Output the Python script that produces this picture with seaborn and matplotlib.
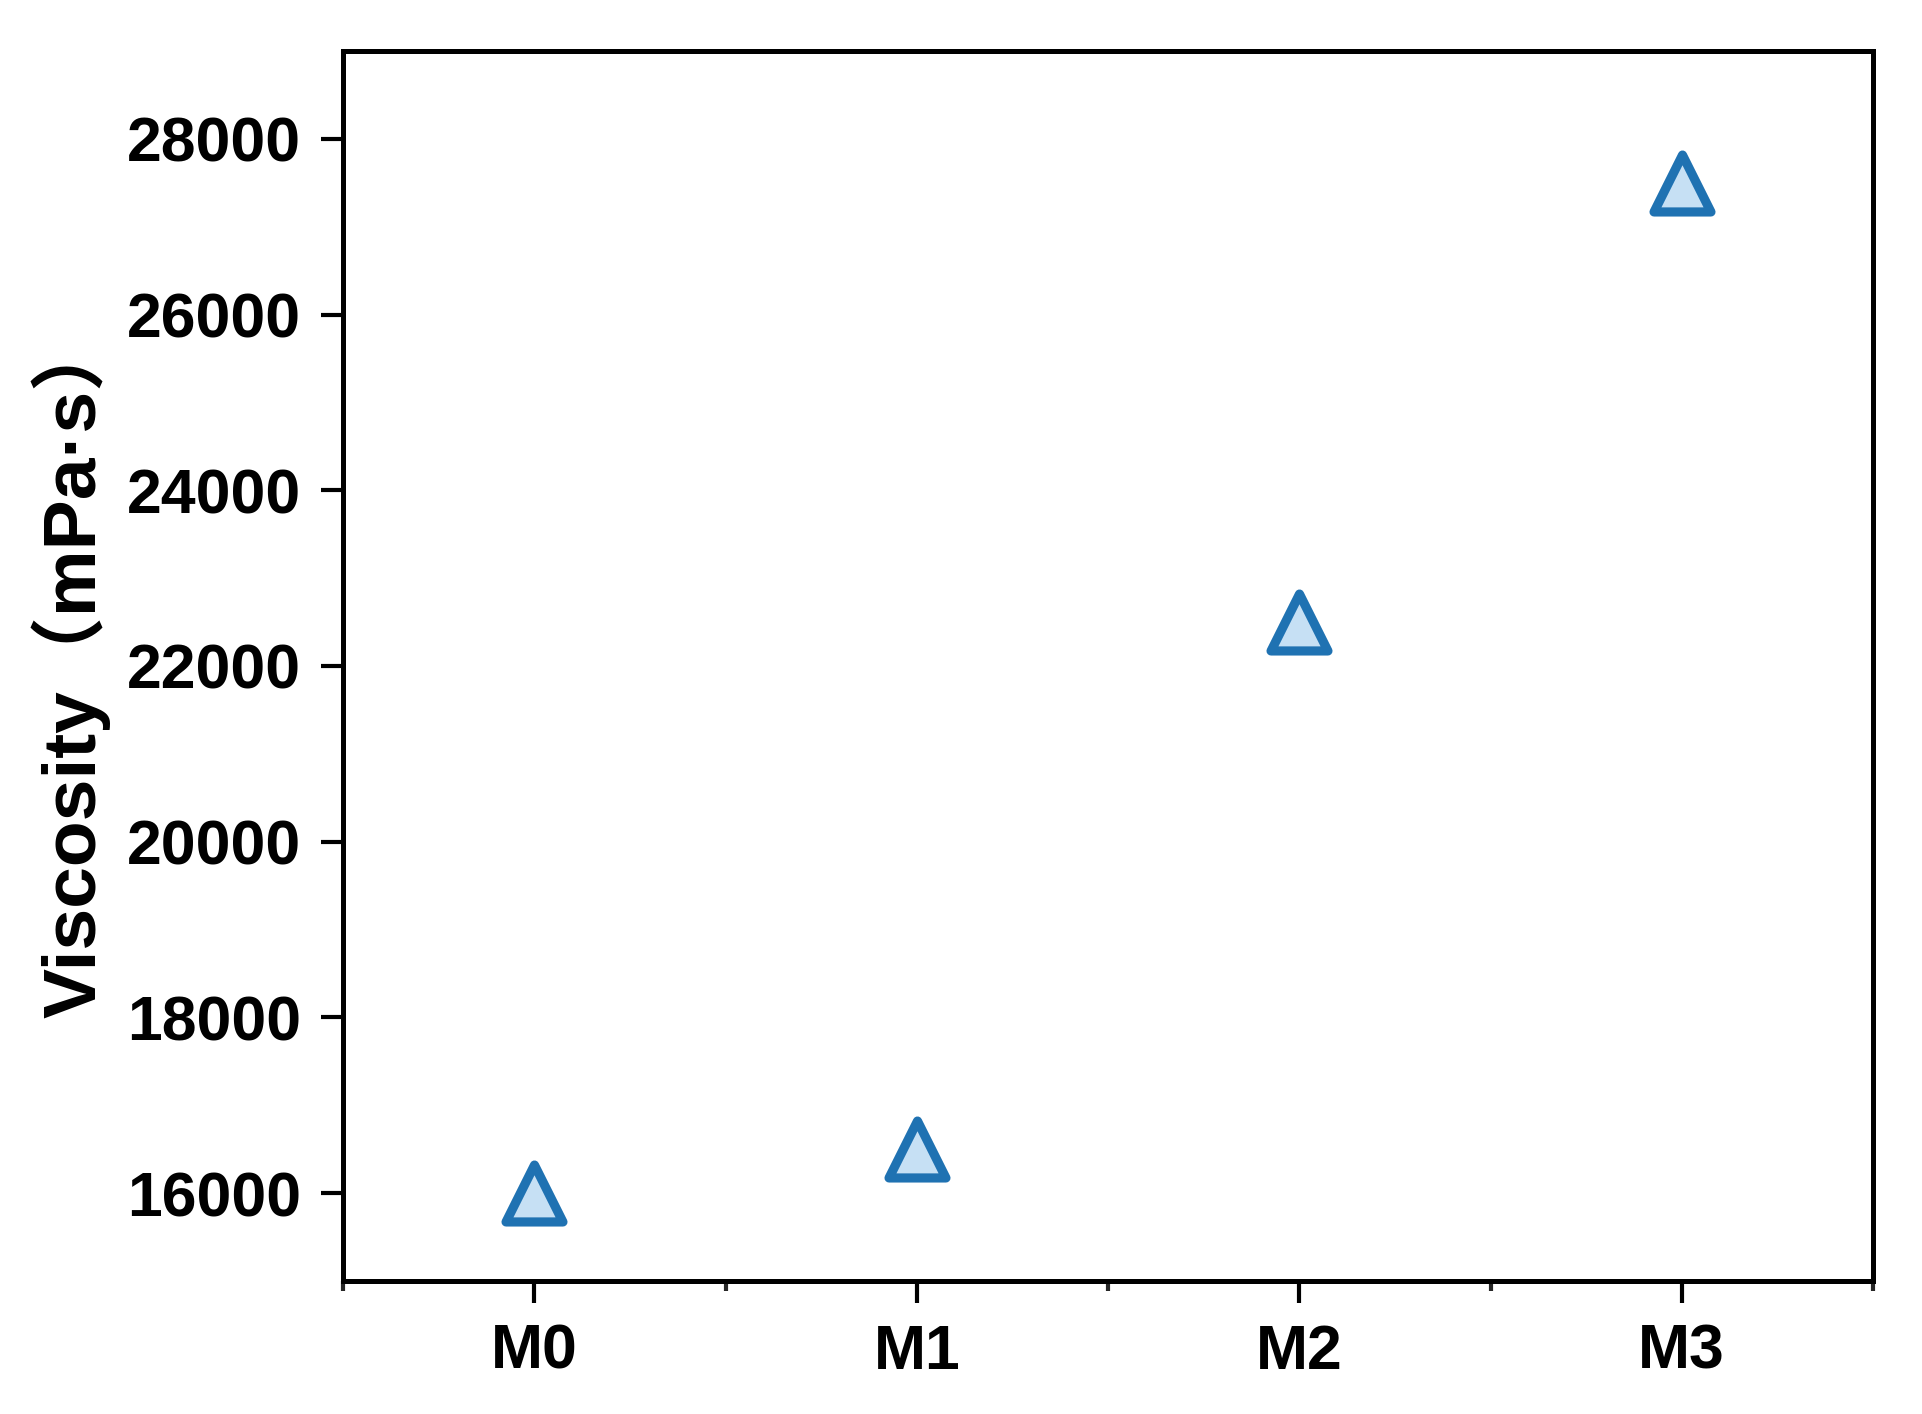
import matplotlib
matplotlib.use('Agg')
import matplotlib.pyplot as plt
import seaborn as sns
import pandas as pd
from matplotlib.ticker import FixedLocator

samples = ['M0', 'M1', 'M2', 'M3']
viscosity = [16000, 16500, 22500, 27500]

df = pd.DataFrame({'Sample': samples, 'Viscosity': viscosity})

sns.set_style('ticks')
plt.rcParams['font.family'] = ['Liberation Sans', 'Noto Sans CJK SC', 'DejaVu Sans']

fig = plt.figure(figsize=(9.61, 7.07), dpi=200)
ax = fig.add_axes([0.1785, 0.0941, 0.796, 0.8698])

sns.scatterplot(data=df, x='Sample', y='Viscosity', marker='^', s=420,
                color='#c6e0f4', edgecolor='#1f72b2', linewidth=3.3, ax=ax, zorder=3)

ax.set_xlim(-0.5, 3.5)
ax.set_ylim(15000, 29000)
ax.set_yticks([16000, 18000, 20000, 22000, 24000, 26000, 28000])
ax.xaxis.set_minor_locator(FixedLocator([-0.5, 0.5, 1.5, 2.5, 3.5]))

for s in ax.spines.values():
    s.set_linewidth(1.8)
    s.set_color('black')
    s.set_visible(True)

ax.tick_params(axis='both', which='major', direction='out', length=8, width=1.5,
               labelsize=22.5, pad=7, colors='black')
ax.tick_params(axis='x', which='minor', direction='out', length=3.6, width=1.5)
ax.tick_params(axis='y', which='minor', left=False)

for lab in ax.get_xticklabels() + ax.get_yticklabels():
    lab.set_fontweight('bold')

ax.set_xlabel('')
ax.set_ylabel('Viscosity（mPa·s）', fontsize=27, fontweight='bold', labelpad=6, color='black')

fig.savefig('out.png', dpi=200)
